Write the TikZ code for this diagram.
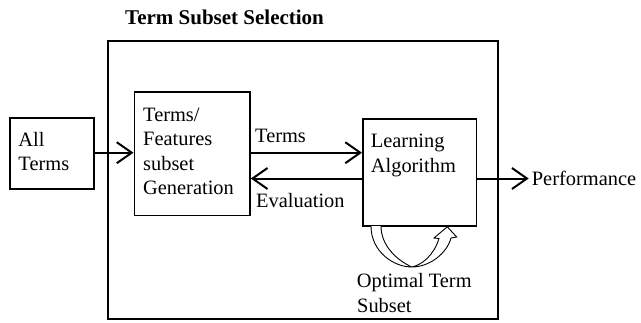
\documentclass[tikz,border=0pt]{standalone}
\usepackage{fontspec}
\setmainfont{Liberation Serif}
\usetikzlibrary{arrows.meta}

\begin{document}
\begin{tikzpicture}[x=1pt,y=-1pt,
  box/.style={draw=black, line width=1.8pt, inner sep=0pt, anchor=north west},
  outerbox/.style={draw=black, line width=2pt, inner sep=0pt, anchor=north west},
  lbl/.style={anchor=base west, inner sep=0pt, font=\fontsize{20.4}{24.5}\selectfont},
  ttl/.style={anchor=base west, inner sep=0pt, font=\fontsize{21}{25}\selectfont\bfseries},
  arr/.style={line width=2pt, -{Straight Barb[length=15pt,width=21pt,line width=2pt]}},
  hollow/.style={draw=black, line width=0.9pt, fill=white, line join=miter}]

\useasboundingbox (0,0) rectangle (641,322);

% title
\node[ttl] (title) at (125,24) {Term Subset Selection};

% boxes
\node[outerbox, minimum width=390, minimum height=278] (sel) at (107,40) {};
\node[box, minimum width=84, minimum height=71] (all) at (9,117) {};
\node[box, minimum width=115.5, minimum height=123.5] (gen) at (133.5,91) {};
\node[box, minimum width=113.5, minimum height=107] (learn) at (362,118) {};

% box texts
\node[lbl] (all1) at (18.3,146) {All};
\node[lbl] (all2) at (18.3,170) {Terms};
\node[lbl] (gen1) at (143,121) {Terms/};
\node[lbl] (gen2) at (143,145.5) {Features};
\node[lbl] (gen3) at (143,170) {subset};
\node[lbl] (gen4) at (143,194.5) {Generation};
\node[lbl] (learn1) at (370.7,147.7) {Learning};
\node[lbl] (learn2) at (370.7,172.3) {Algorithm};

% connector labels
\node[lbl] (termslbl) at (255,142.7) {Terms};
\node[lbl] (evallbl) at (256,207.3) {Evaluation};
\node[lbl] (perf) at (531.7,185) {Performance};
\node[lbl] (opt1) at (356.7,287) {Optimal Term};
\node[lbl] (opt2) at (357,312.5) {Subset};

% connector heights
\coordinate (yT) at (0,152.7);
\coordinate (yE) at (0,178.5);

% connectors
\draw[arr] (all.east |- yT) -- (gen.west |- yT);
\draw[arr] (gen.east |- yT) -- (learn.west |- yT);
\draw[arr] (learn.west |- yE) -- (gen.east |- yE);
\draw[arr, shorten >=3pt] (learn.east |- yE) -- (perf.west |- yE);

% hollow feedback arrow under the learning box
\draw[hollow]
  (371,226) .. controls (371,252) and (394,267) .. (411.7,267)
  .. controls (430,267) and (447,253) .. (451,238)
  -- (456.7,237) -- (447.3,226.8) -- (434,238) -- (439,238.5)
  .. controls (434,255) and (422,265) .. (411.7,267)
  .. controls (397,260) and (381,246) .. (381,226);

\end{tikzpicture}
\end{document}
